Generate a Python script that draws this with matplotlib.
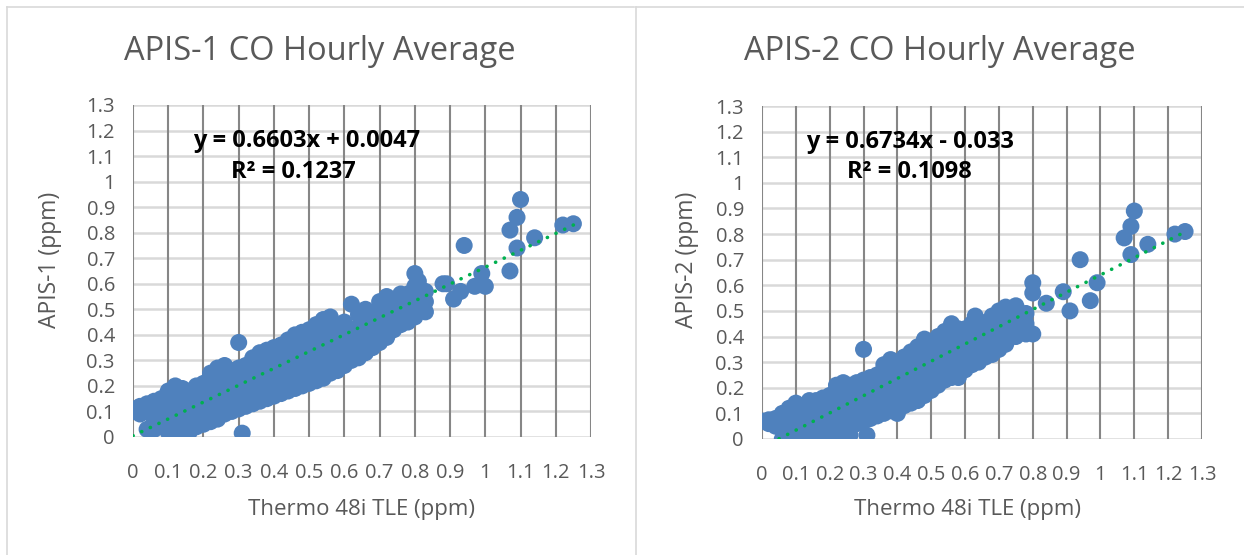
import matplotlib
matplotlib.use('Agg')
import matplotlib.pyplot as plt
from matplotlib.lines import Line2D

plt.rcParams['font.family'] = ['Open Sans', 'DejaVu Sans']

# ---- data ----
ticks = [0, 0.1, 0.2, 0.3, 0.4, 0.5, 0.6, 0.7, 0.8, 0.9, 1.0, 1.1, 1.2, 1.3]
tick_labels = ['0', '0.1', '0.2', '0.3', '0.4', '0.5', '0.6', '0.7', '0.8', '0.9', '1', '1.1', '1.2', '1.3']

apis1_x = [0.00, 0.00, 0.02, 0.02, 0.04, 0.04, 0.04, 0.06, 0.06, 0.06, 0.06,
           0.08, 0.08, 0.08, 0.08, 0.10, 0.10, 0.10, 0.10, 0.10,
           0.12, 0.12, 0.12, 0.12, 0.12, 0.12, 0.14, 0.14, 0.14, 0.14, 0.14,
           0.16, 0.16, 0.16, 0.16, 0.16, 0.18, 0.18, 0.18, 0.18, 0.18,
           0.20, 0.20, 0.20, 0.20, 0.20, 0.22, 0.22, 0.22, 0.22, 0.22, 0.22,
           0.24, 0.24, 0.24, 0.24, 0.24, 0.24, 0.26, 0.26, 0.26, 0.26, 0.26, 0.26,
           0.28, 0.28, 0.28, 0.28, 0.28, 0.30, 0.30, 0.30, 0.30, 0.30, 0.30, 0.31,
           0.32, 0.32, 0.32, 0.32, 0.32, 0.34, 0.34, 0.34, 0.34, 0.34, 0.34,
           0.36, 0.36, 0.36, 0.36, 0.36, 0.36, 0.38, 0.38, 0.38, 0.38, 0.38, 0.38,
           0.40, 0.40, 0.40, 0.40, 0.40, 0.40, 0.42, 0.42, 0.42, 0.42, 0.42, 0.42,
           0.44, 0.44, 0.44, 0.44, 0.44, 0.44, 0.46, 0.46, 0.46, 0.46, 0.46, 0.46,
           0.48, 0.48, 0.48, 0.48, 0.48, 0.48, 0.50, 0.50, 0.50, 0.50, 0.50, 0.50,
           0.52, 0.52, 0.52, 0.52, 0.52, 0.52, 0.54, 0.54, 0.54, 0.54, 0.54, 0.54,
           0.56, 0.56, 0.56, 0.56, 0.56, 0.56, 0.58, 0.58, 0.58, 0.58, 0.58,
           0.60, 0.60, 0.60, 0.60, 0.60, 0.62, 0.62, 0.62, 0.62, 0.62,
           0.64, 0.64, 0.64, 0.64, 0.64, 0.66, 0.66, 0.66, 0.66, 0.66,
           0.68, 0.68, 0.68, 0.68, 0.70, 0.70, 0.70, 0.70, 0.70,
           0.72, 0.72, 0.72, 0.72, 0.72, 0.74, 0.74, 0.74, 0.74,
           0.76, 0.76, 0.76, 0.76, 0.78, 0.78, 0.78, 0.78,
           0.80, 0.80, 0.80, 0.80, 0.80, 0.81, 0.83, 0.83, 0.83,
           0.88, 0.89, 0.91, 0.93, 0.94, 0.97, 0.99, 1.00,
           1.07, 1.07, 1.09, 1.09, 1.10, 1.14, 1.22, 1.25]
apis1_y = [0.10, 0.11, 0.09, 0.12, 0.10, 0.13, 0.03, 0.03, 0.07, 0.11, 0.14,
           0.04, 0.08, 0.12, 0.15, 0.02, 0.06, 0.10, 0.14, 0.18,
           0.01, 0.05, 0.09, 0.13, 0.17, 0.20, 0.03, 0.07, 0.11, 0.15, 0.19,
           0.02, 0.06, 0.10, 0.14, 0.18, 0.04, 0.08, 0.12, 0.16, 0.20,
           0.05, 0.09, 0.13, 0.17, 0.21, 0.06, 0.10, 0.14, 0.18, 0.22, 0.25,
           0.07, 0.11, 0.15, 0.19, 0.23, 0.27, 0.09, 0.13, 0.17, 0.21, 0.25, 0.28,
           0.10, 0.14, 0.18, 0.22, 0.26, 0.11, 0.15, 0.19, 0.23, 0.27, 0.37, 0.015,
           0.12, 0.16, 0.20, 0.24, 0.28, 0.13, 0.17, 0.21, 0.25, 0.29, 0.31,
           0.14, 0.18, 0.22, 0.26, 0.30, 0.33, 0.15, 0.19, 0.23, 0.27, 0.31, 0.34,
           0.16, 0.20, 0.24, 0.28, 0.32, 0.35, 0.17, 0.21, 0.25, 0.29, 0.33, 0.36,
           0.18, 0.22, 0.26, 0.30, 0.34, 0.38, 0.19, 0.23, 0.27, 0.31, 0.35, 0.40,
           0.20, 0.24, 0.28, 0.32, 0.36, 0.41, 0.21, 0.25, 0.29, 0.33, 0.37, 0.42,
           0.22, 0.26, 0.30, 0.34, 0.38, 0.44, 0.23, 0.27, 0.31, 0.35, 0.39, 0.46,
           0.25, 0.29, 0.33, 0.37, 0.41, 0.47, 0.26, 0.30, 0.34, 0.38, 0.43,
           0.28, 0.32, 0.36, 0.40, 0.45, 0.30, 0.34, 0.38, 0.42, 0.52,
           0.31, 0.35, 0.39, 0.43, 0.48, 0.33, 0.37, 0.41, 0.45, 0.50,
           0.35, 0.39, 0.43, 0.48, 0.37, 0.41, 0.45, 0.49, 0.53,
           0.39, 0.43, 0.47, 0.51, 0.55, 0.42, 0.46, 0.50, 0.54,
           0.44, 0.48, 0.52, 0.56, 0.45, 0.49, 0.53, 0.56,
           0.47, 0.51, 0.55, 0.59, 0.64, 0.61, 0.49, 0.53, 0.57,
           0.60, 0.60, 0.54, 0.57, 0.75, 0.59, 0.64, 0.59,
           0.81, 0.65, 0.86, 0.74, 0.93, 0.78, 0.83, 0.835]

apis2_x = [0.00, 0.02, 0.02, 0.04, 0.04, 0.06, 0.06, 0.06, 0.06,
           0.08, 0.08, 0.08, 0.08, 0.10, 0.10, 0.10, 0.10, 0.10,
           0.12, 0.12, 0.12, 0.12, 0.14, 0.14, 0.14, 0.14, 0.14,
           0.16, 0.16, 0.16, 0.16, 0.16, 0.18, 0.18, 0.18, 0.18, 0.18,
           0.20, 0.20, 0.20, 0.20, 0.20, 0.22, 0.22, 0.22, 0.22, 0.22, 0.22,
           0.24, 0.24, 0.24, 0.24, 0.24, 0.24, 0.26, 0.26, 0.26, 0.26, 0.26, 0.26,
           0.28, 0.28, 0.28, 0.28, 0.28, 0.30, 0.30, 0.30, 0.30, 0.30, 0.30, 0.31,
           0.32, 0.32, 0.32, 0.32, 0.32, 0.34, 0.34, 0.34, 0.34, 0.34,
           0.36, 0.36, 0.36, 0.36, 0.36, 0.36, 0.38, 0.38, 0.38, 0.38, 0.38, 0.38,
           0.40, 0.40, 0.40, 0.40, 0.40, 0.40, 0.42, 0.42, 0.42, 0.42, 0.42, 0.42,
           0.44, 0.44, 0.44, 0.44, 0.44, 0.44, 0.46, 0.46, 0.46, 0.46, 0.46, 0.46,
           0.48, 0.48, 0.48, 0.48, 0.48, 0.48, 0.50, 0.50, 0.50, 0.50, 0.50, 0.50,
           0.52, 0.52, 0.52, 0.52, 0.52, 0.52, 0.54, 0.54, 0.54, 0.54, 0.54, 0.54,
           0.56, 0.56, 0.56, 0.56, 0.56, 0.56, 0.58, 0.58, 0.58, 0.58, 0.58, 0.58,
           0.60, 0.60, 0.60, 0.60, 0.60, 0.62, 0.62, 0.62, 0.62, 0.62, 0.63,
           0.64, 0.64, 0.64, 0.64, 0.64, 0.66, 0.66, 0.66, 0.66,
           0.68, 0.68, 0.68, 0.68, 0.68, 0.70, 0.70, 0.70, 0.70, 0.70,
           0.72, 0.72, 0.72, 0.72, 0.72, 0.75, 0.75, 0.75, 0.75,
           0.78, 0.78, 0.78, 0.80, 0.80, 0.80,
           0.84, 0.89, 0.91, 0.94, 0.97, 0.99,
           1.07, 1.09, 1.09, 1.10, 1.14, 1.22, 1.25]
apis2_y = [0.07, 0.075, 0.06, 0.08, 0.05, 0.0, 0.04, 0.08, 0.10,
           0.01, 0.05, 0.09, 0.12, 0.0, 0.04, 0.08, 0.12, 0.14,
           0.01, 0.05, 0.09, 0.13, 0.0, 0.04, 0.08, 0.12, 0.15,
           0.01, 0.05, 0.09, 0.13, 0.15, 0.0, 0.04, 0.08, 0.12, 0.16,
           0.01, 0.05, 0.09, 0.13, 0.17, 0.02, 0.06, 0.10, 0.14, 0.18, 0.21,
           0.03, 0.07, 0.11, 0.15, 0.19, 0.22, 0.015, 0.05, 0.09, 0.13, 0.17, 0.21,
           0.06, 0.10, 0.14, 0.18, 0.22, 0.07, 0.11, 0.15, 0.19, 0.23, 0.35, 0.015,
           0.08, 0.12, 0.16, 0.20, 0.24, 0.09, 0.13, 0.17, 0.21, 0.25,
           0.10, 0.14, 0.18, 0.22, 0.26, 0.29, 0.11, 0.15, 0.19, 0.23, 0.27, 0.31,
           0.10, 0.14, 0.18, 0.22, 0.26, 0.30, 0.13, 0.17, 0.21, 0.25, 0.29, 0.32,
           0.14, 0.18, 0.22, 0.26, 0.30, 0.34, 0.15, 0.19, 0.23, 0.27, 0.31, 0.36,
           0.17, 0.21, 0.25, 0.29, 0.33, 0.39, 0.19, 0.23, 0.27, 0.31, 0.35, 0.38,
           0.21, 0.25, 0.29, 0.33, 0.37, 0.40, 0.23, 0.27, 0.31, 0.35, 0.39, 0.42,
           0.24, 0.28, 0.32, 0.36, 0.40, 0.45, 0.24, 0.28, 0.32, 0.36, 0.40, 0.43,
           0.27, 0.31, 0.35, 0.39, 0.43, 0.29, 0.33, 0.37, 0.41, 0.45, 0.48,
           0.30, 0.34, 0.38, 0.42, 0.46, 0.32, 0.36, 0.40, 0.44,
           0.33, 0.37, 0.41, 0.45, 0.48, 0.35, 0.39, 0.43, 0.47, 0.50,
           0.37, 0.41, 0.45, 0.49, 0.515, 0.40, 0.44, 0.48, 0.52,
           0.41, 0.45, 0.49, 0.41, 0.57, 0.61,
           0.53, 0.575, 0.50, 0.70, 0.54, 0.61,
           0.785, 0.83, 0.72, 0.89, 0.76, 0.80, 0.81]

titles = ['APIS-1 CO Hourly Average', 'APIS-2 CO Hourly Average']
ylabels = ['APIS-1 (ppm)', 'APIS-2 (ppm)']
xlabel = 'Thermo 48i TLE (ppm)'
slopes = [0.6603, 0.6734]
intercepts = [0.0047, -0.033]
eq_text = ['y = 0.6603x + 0.0047', 'y = 0.6734x - 0.033']
r2_text = ['R² = 0.1237', 'R² = 0.1098']

W, H = 1244, 555
fig = plt.figure(figsize=(W / 100, H / 100), dpi=100)

def fx(px):
    return px / W

def fy(py):
    return 1 - py / H

GRAY = '#595959'
BLUE = '#4F81BD'
GREEN = '#00B050'

# panel borders
for x0, x1 in [(7, 634), (636, 1250)]:
    fig.add_artist(Line2D([fx(x0), fx(x1)], [fy(7), fy(7)], color='#D9D9D9', lw=1.2))
    fig.add_artist(Line2D([fx(x0), fx(x0)], [fy(7), fy(560)], color='#D9D9D9', lw=1.2))

# axes boxes in pixels: left, top, right, bottom
boxes = [(133, 105, 591, 437), (762, 106, 1202, 439)]
xs = [apis1_x, apis2_x]
ys = [apis1_y, apis2_y]

for i in range(2):
    l, t, r, b = boxes[i]
    ax = fig.add_axes([fx(l), fy(b), (r - l) / W, (b - t) / H])
    ax.set_xlim(0, 1.3)
    ax.set_ylim(0, 1.3)
    ax.set_xticks(ticks)
    ax.set_yticks(ticks)
    ax.set_xticklabels(tick_labels)
    ax.set_yticklabels(tick_labels)
    ax.tick_params(length=0, labelsize=14.5, labelcolor=GRAY)
    ax.tick_params(axis='x', pad=19)
    ax.tick_params(axis='y', pad=13)
    for s in ax.spines.values():
        s.set_visible(False)
    for v in ticks:
        ax.axhline(v, color='#D9D9D9', lw=1.8, zorder=0)
        ax.axvline(v, color='#868686', lw=1.5, zorder=0.5)
    ax.scatter(xs[i], ys[i], s=150, color=BLUE, edgecolors='none', zorder=2)
    m, c = slopes[i], intercepts[i]
    ax.plot([0, 1.25], [c, m * 1.25 + c], color=GREEN, lw=2.6,
            linestyle=(0, (0.05, 2.6)), dash_capstyle='round', zorder=3)
    ax.set_facecolor('none')

# texts
fig.text(fx(320), fy(51), titles[0], ha='center', va='center', fontsize=23.5, color=GRAY)
fig.text(fx(940), fy(51), titles[1], ha='center', va='center', fontsize=23.5, color=GRAY)
fig.text(fx(362), fy(509), xlabel, ha='center', va='center', fontsize=16, color=GRAY)
fig.text(fx(968), fy(509), xlabel, ha='center', va='center', fontsize=16, color=GRAY)
fig.text(fx(50), fy(260), ylabels[0], ha='center', va='center', fontsize=16.5, color=GRAY, rotation=90)
fig.text(fx(687), fy(260), ylabels[1], ha='center', va='center', fontsize=16.5, color=GRAY, rotation=90)
fig.text(fx(307), fy(141), eq_text[0], ha='center', va='center', fontsize=17, fontweight='bold', color='black')
fig.text(fx(293), fy(172), r2_text[0], ha='center', va='center', fontsize=17, fontweight='bold', color='black')
fig.text(fx(910), fy(142), eq_text[1], ha='center', va='center', fontsize=17, fontweight='bold', color='black')
fig.text(fx(909), fy(172), r2_text[1], ha='center', va='center', fontsize=17, fontweight='bold', color='black')

fig.savefig('out.png', dpi=100, facecolor='white')
